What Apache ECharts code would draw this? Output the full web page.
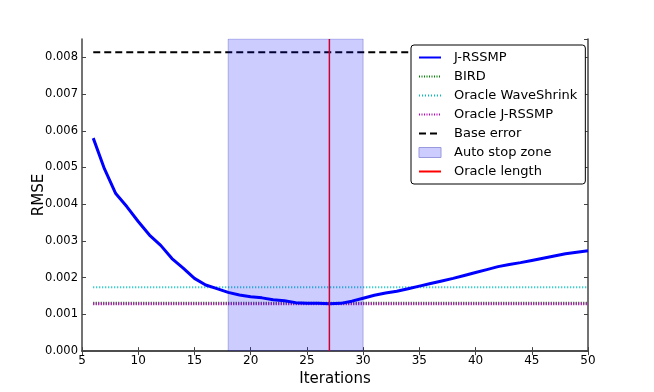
<!DOCTYPE html>
<html>
<head>
<meta charset="utf-8">
<script src="https://cdn.jsdelivr.net/npm/echarts@6/dist/echarts.min.js"></script>
<style>
  html, body { margin: 0; padding: 0; background: #fff; }
  #chart { width: 654px; height: 392px; }
</style>
</head>
<body>
<div id="chart"></div>
<script>
// iterations and RMSE of J-RSSMP
const iterations = [6, 7, 8, 9, 10, 11, 12, 13, 14, 15, 16, 17, 18, 19, 20, 21, 22, 23, 24, 25, 26, 27, 28,
  29, 30, 31, 32, 33, 34, 35, 36, 37, 38, 39, 40, 41, 42, 43, 44, 45, 46, 47, 48, 49, 50];
const jrssmp = [0.0058, 0.00496, 0.00429, 0.00393, 0.00353, 0.00316, 0.00288, 0.00252, 0.00226, 0.00198,
  0.00180, 0.00170, 0.00160, 0.00153, 0.00148, 0.00145, 0.00140, 0.00137, 0.00132, 0.00130, 0.00130,
  0.00129, 0.00130, 0.00136, 0.00144, 0.00152, 0.00158, 0.00163, 0.00170, 0.00177, 0.00184, 0.00191,
  0.00198, 0.00206, 0.00214, 0.00222, 0.00230, 0.00236, 0.00241, 0.00247, 0.00253, 0.00259, 0.00265,
  0.00269, 0.00273];
const birdErr = 0.0013;
const oracleWaveShrink = 0.00174;
const oracleJrssmp = 0.00129;
const baseError = 0.00814;
const stopZone = [18, 30];
const oracleLength = 27;
const yMax = 0.0085;
const yTicks = [0, 0.001, 0.002, 0.003, 0.004, 0.005, 0.006, 0.007, 0.008];

const xFirst = iterations[0];
const xLast = iterations[iterations.length - 1];
const flat = v => [[xFirst, v], [xLast, v]];

const font = 'DejaVu Sans';
const frame = '#444';

var myChart = echarts.init(document.getElementById('chart'));
let option = {
  animation: false,
  grid: { left: 82, right: 66, top: 39, bottom: 39 },
  legend: {
    orient: 'vertical',
    left: 411,
    top: 45,
    z: 20,
    padding: [6, 8, 6, 7],
    itemGap: 6,
    itemWidth: 22,
    itemHeight: 10,
    borderColor: '#000',
    borderWidth: 1,
    borderRadius: 3,
    backgroundColor: '#fff',
    itemStyle: { opacity: 0 },
    textStyle: { fontFamily: font, fontSize: 13, color: '#000', padding: [0, 0, 0, 8] },
    data: [
      'J-RSSMP', 'BIRD', 'Oracle WaveShrink', 'Oracle J-RSSMP', 'Base error',
      { name: 'Auto stop zone', icon: 'rect', itemStyle: { opacity: 1, color: '#ccccff', borderColor: '#9999dd', borderWidth: 1 } },
      'Oracle length'
    ]
  },
  xAxis: [
    {
      type: 'value', min: 5, max: 50, interval: 5,
      name: 'Iterations', nameLocation: 'middle', nameGap: 12,
      nameTextStyle: { fontFamily: font, fontSize: 15, color: '#000' },
      axisLine: { lineStyle: { color: frame, width: 1.5 } },
      axisTick: { inside: true, length: 4, lineStyle: { color: frame } },
      axisLabel: { fontFamily: font, fontSize: 12, color: '#000', margin: 4 },
      splitLine: { show: false }
    },
    {
      type: 'value', min: 5, max: 50, interval: 5, position: 'top',
      axisLine: { show: true, lineStyle: { color: frame, width: 1.5 } },
      axisTick: { inside: true, length: 4, lineStyle: { color: frame } },
      axisLabel: { show: false },
      splitLine: { show: false }
    }
  ],
  yAxis: [
    {
      type: 'value', min: 0, max: yMax, interval: 0.001,
      name: 'RMSE', nameLocation: 'middle', nameGap: 35, nameMoveOverlap: false,
      nameTextStyle: { fontFamily: font, fontSize: 15, color: '#000' },
      axisLine: { show: true, lineStyle: { color: frame, width: 1.5 } },
      axisTick: { inside: true, length: 4, lineStyle: { color: frame } },
      axisLabel: {
        fontFamily: font, fontSize: 11.5, color: '#000', margin: 4, showMaxLabel: false,
        formatter: v => (yTicks.some(t => Math.abs(t - v) < 1e-9) ? v.toFixed(3) : '')
      },
      splitLine: { show: false }
    },
    {
      type: 'value', min: 0, max: yMax, interval: 0.001, position: 'right',
      axisLine: { show: true, lineStyle: { color: frame, width: 1.5 } },
      axisTick: { inside: true, length: 4, lineStyle: { color: frame } },
      axisLabel: { show: false },
      splitLine: { show: false }
    }
  ],
  series: [
    {
      name: 'Base error', type: 'line', data: flat(baseError), symbol: 'none', z: 3,
      itemStyle: { color: '#000' },
      lineStyle: { color: '#000', width: 2, type: [7, 4] }
    },
    {
      name: 'Oracle WaveShrink', type: 'line', data: flat(oracleWaveShrink), symbol: 'none', z: 3,
      itemStyle: { color: '#00bfbf' },
      lineStyle: { color: '#00bfbf', width: 2, type: [1, 2] }
    },
    {
      name: 'BIRD', type: 'line', data: flat(birdErr), symbol: 'none', z: 3,
      itemStyle: { color: '#008000' },
      lineStyle: { color: '#008000', width: 3, type: [1, 1.5] }
    },
    {
      name: 'Oracle J-RSSMP', type: 'line', data: flat(oracleJrssmp), symbol: 'none', z: 4,
      itemStyle: { color: '#bf00bf' },
      lineStyle: { color: '#bf00bf', width: 3, type: [1, 1.5] }
    },
    {
      name: 'J-RSSMP', type: 'line', symbol: 'none', z: 5,
      data: iterations.map((x, i) => [x, jrssmp[i]]),
      itemStyle: { color: '#0000ff' },
      lineStyle: { color: '#0000ff', width: 3 }
    },
    {
      name: 'Oracle length', type: 'line', symbol: 'none', z: 6,
      data: [[oracleLength, 0], [oracleLength, yMax]],
      itemStyle: { color: '#ff0000' },
      lineStyle: { color: '#ff0000', width: 1.5 }
    },
    {
      // translucent like matplotlib's axvspan, so anything under it shows through
      name: 'Auto stop zone', type: 'line', symbol: 'none', z: 7,
      data: [[stopZone[0], 0], [stopZone[0], yMax], [stopZone[1], yMax], [stopZone[1], 0]],
      itemStyle: { color: '#ccccff' },
      lineStyle: { color: 'rgba(0, 0, 160, 0.25)', width: 1 },
      areaStyle: { color: 'rgba(0, 0, 255, 0.2)', opacity: 1 }
    }
  ]
};
myChart.setOption(option);
</script>
</body>
</html>
